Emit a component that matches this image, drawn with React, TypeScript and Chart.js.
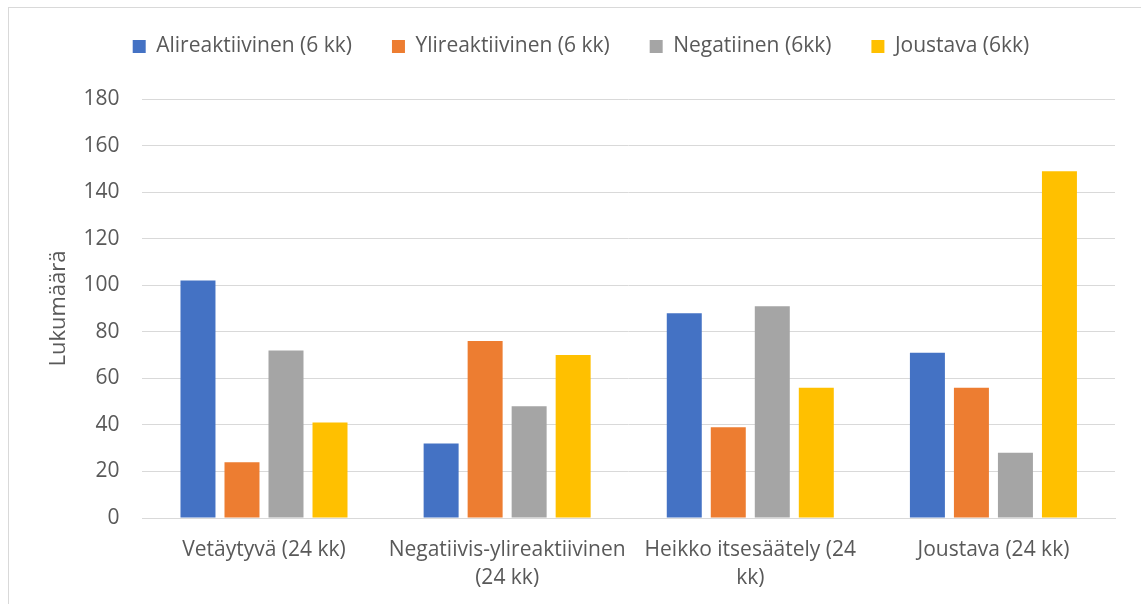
import React, { useEffect, useRef } from "react";
import { Chart, registerables } from "chart.js";

Chart.register(...registerables);

const categories: (string | string[])[] = [
  "Vetäytyvä (24 kk)",
  ["Negatiivis-ylireaktiivinen", "(24 kk)"],
  ["Heikko itsesäätely (24", "kk)"],
  "Joustava (24 kk)",
];
const seriesNames = [
  "Alireaktiivinen (6 kk)",
  "Ylireaktiivinen (6 kk)",
  "Negatiinen (6kk)",
  "Joustava (6kk)",
];
const alireaktiivinen = [102, 32, 88, 71];
const ylireaktiivinen = [24, 76, 39, 56];
const negatiinen = [72, 48, 91, 28];
const joustava = [41, 70, 56, 149];
const colors = ["#4472C4", "#ED7D31", "#A5A5A5", "#FFC000"];
const yTitle = "Lukumäärä";

const FONT = "'Open Sans', 'Noto Sans', sans-serif";
const TEXT = "#595959";

export default function App() {
  const ref = useRef<HTMLCanvasElement | null>(null);
  useEffect(() => {
    if (!ref.current) return;
    const values = [alireaktiivinen, ylireaktiivinen, negatiinen, joustava];
    const legendSpacer = {
      id: "legendSpacer",
      beforeInit(chart: any) {
        const orig = chart.legend.fit;
        chart.legend.fit = function () {
          orig.bind(chart.legend)();
          this.height += 32;
        };
      },
      afterLayout(chart: any) {
        chart.legend.left += 14;
        chart.legend.right += 14;
      },
    };
    const chart = new Chart(ref.current, {
      type: "bar",
      data: {
        labels: categories as any,
        datasets: seriesNames.map((name, i) => ({
          label: name,
          data: values[i],
          backgroundColor: colors[i],
          borderWidth: 0,
          categoryPercentage: 0.724,
          barPercentage: 0.795,
        })),
      },
      options: {
        responsive: false,
        animation: false,
        layout: { padding: { left: 10, right: 35, top: 0, bottom: 0 } },
        plugins: {
          legend: {
            position: "top",
            labels: {
              boxWidth: 13,
              boxHeight: 13,
              padding: 40,
              color: TEXT,
              font: { family: FONT, size: 21 },
            },
          },
          tooltip: { enabled: false },
        },
        scales: {
          x: {
            grid: { display: false, drawTicks: false },
            border: { display: true, color: "#D9D9D9" },
            ticks: {
              color: TEXT,
              padding: 18,
              maxRotation: 0,
              autoSkip: false,
              font: { family: FONT, size: 21, lineHeight: 1.333 },
            },
          },
          y: {
            min: 0,
            max: 180,
            grid: { color: "#D9D9D9", lineWidth: 1, drawTicks: false },
            border: { display: false },
            ticks: {
              stepSize: 20,
              color: TEXT,
              padding: 23,
              font: { family: FONT, size: 21 },
            },
            title: {
              display: true,
              text: yTitle,
              color: TEXT,
              font: { family: FONT, size: 22, lineHeight: 1.2 },
              padding: { top: 27, bottom: -12 },
            },
          },
        },
      },
      plugins: [legendSpacer],
    });
    return () => chart.destroy();
  }, []);
  return (
    <div
      style={{
        position: "fixed",
        left: 8,
        top: 7,
        width: 1142,
        height: 700,
        border: "1px solid #D9D9D9",
        overflow: "hidden",
        background: "#fff",
      }}
    >
      <canvas
        ref={ref}
        width={1141}
        height={614}
        style={{ position: "absolute", left: 0, top: -12, width: 1141, height: 614 }}
      />
    </div>
  );
}
